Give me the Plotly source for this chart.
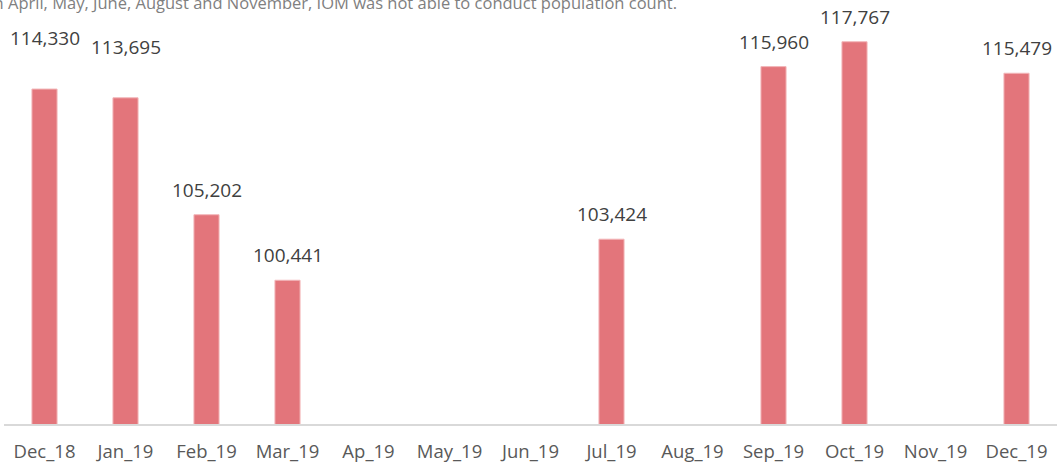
import plotly.graph_objects as go

categories = ["Dec_18", "Jan_19", "Feb_19", "Mar_19", "Ap_19", "May_19", "Jun_19",
              "Jul_19", "Aug_19", "Sep_19", "Oct_19", "Nov_19", "Dec_19"]
population = [114330, 113695, 105202, 100441, None, None, None,
              103424, None, 115960, 117767, None, 115479]
note = "In April, May, June, August and November, IOM was not able to conduct population count."

BAR_COLOR = "#E3757B"
FONT = "Open Sans"

fig = go.Figure()
fig.add_trace(go.Bar(
    x=categories, y=population,
    marker=dict(color=BAR_COLOR, line=dict(color="#F2B6B9", width=1)),
    width=0.31,
    hoverinfo="x+y",
))

# data labels (first two are lifted higher in the reference)
extra_lift = {"Dec_18": 26, "Jan_19": 26}
for c, v in zip(categories, population):
    if v is None:
        continue
    fig.add_annotation(
        x=c, y=v, xref="x", yref="y",
        text=f"{v:,}", showarrow=False,
        yanchor="bottom", yshift=10 + extra_lift.get(c, 0),
        font=dict(family=FONT, size=19, color="#404040"),
    )

fig.add_annotation(
    x=0, y=1, xref="paper", yref="paper", xanchor="left", yanchor="bottom",
    xshift=-17, yshift=-5, text=note, showarrow=False,
    font=dict(family=FONT, size=16.5, color="#808080"),
)

fig.update_layout(
    width=1058, height=464,
    margin=dict(l=4, r=1, t=11, b=40),
    paper_bgcolor="white", plot_bgcolor="white",
    showlegend=False,
    xaxis=dict(
        type="category", categoryorder="array", categoryarray=categories,
        range=[-0.5, 12.5], automargin=False,
        showline=True, linecolor="#D9D9D9", linewidth=1.5,
        ticks="", showgrid=False, ticklabelstandoff=10,
        tickfont=dict(family=FONT, size=18.5, color="#595959"),
    ),
    yaxis=dict(
        range=[90000, 120000], visible=False, showgrid=False, zeroline=False,
        automargin=False,
    ),
)

fig.write_html("out.html", config={"displayModeBar": False},
               post_script="document.body.style.margin='0';")
